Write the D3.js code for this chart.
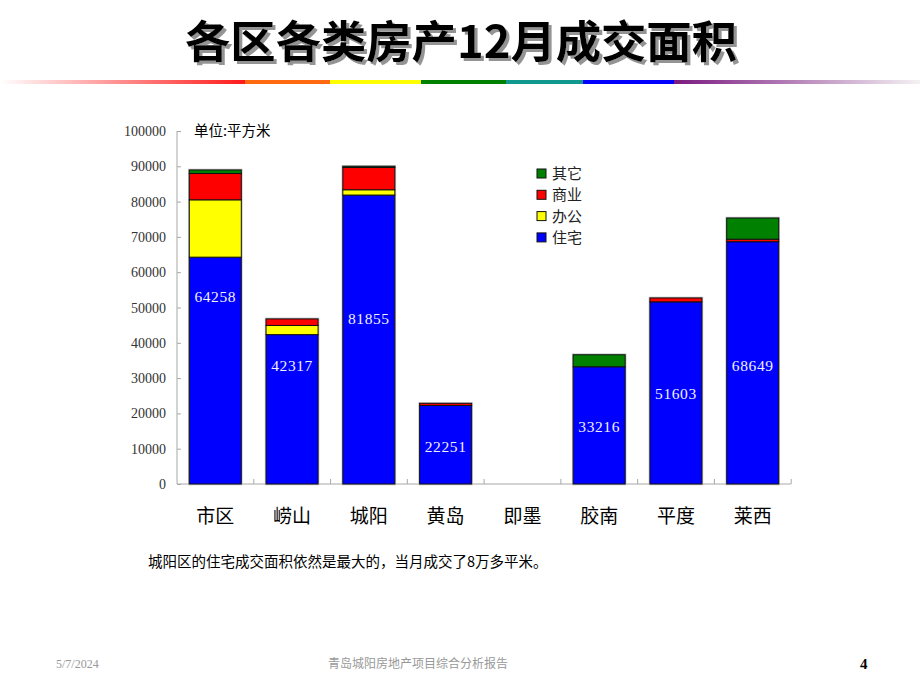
<!DOCTYPE html>
<html><head><meta charset="utf-8">
<script src="https://cdn.jsdelivr.net/npm/d3@7/dist/d3.min.js"></script>
<style>body{margin:0;background:#fff;}svg{display:block;}</style>
</head><body>
<script>
const categories = ["市区","崂山","城阳","黄岛","即墨","胶南","平度","莱西"];
const seriesNames = ["住宅","办公","商业","其它"];
const residential = [64258, 42317, 81855, 22251, 0, 33216, 51603, 68649];
const office      = [16250, 2600, 1500, 0, 0, 0, 0, 0];
const commercial  = [7450, 1850, 6300, 600, 0, 0, 1100, 700];
const other       = [1000, 0, 350, 0, 0, 3400, 0, 6000];
const labelAt     = [53250, 33700, 47000, 10750, null, 16150, 25500, 33700];
const yTicks = [0,10000,20000,30000,40000,50000,60000,70000,80000,90000,100000];
const colors = {"住宅":"#0000ff","办公":"#ffff00","商业":"#ff0000","其它":"#008000"};
const legendOrder = ["其它","商业","办公","住宅"];

const W = 920, H = 690;
const svg = d3.select("body").append("svg").attr("width", W).attr("height", H);
const defs = svg.append("defs");

// Title with drop shadow
const title = "各区各类房产12月成交面积";
const cjk = "'Noto Sans CJK SC','Noto Sans',sans-serif";
const f = defs.append("filter").attr("id","sh").attr("x","-5%").attr("y","-20%").attr("width","110%").attr("height","150%");
f.append("feDropShadow").attr("dx",3).attr("dy",3).attr("stdDeviation",0.6)
  .attr("flood-color","#888").attr("flood-opacity",0.9);
svg.append("text").attr("x", 185).attr("y", 58)
  .attr("textLength", 552).attr("lengthAdjust","spacingAndGlyphs")
  .attr("font-family", cjk).attr("font-weight","bold").attr("font-size", 44)
  .attr("fill", "#000").attr("filter","url(#sh)").text(title);

// Rainbow line
const g1 = defs.append("linearGradient").attr("id","rb").attr("x1",0).attr("x2",1).attr("y1",0).attr("y2",0);
const stops = [
  [0,"#ffffff"],[245/920,"#ff1a1a"],[245/920,"#ff6a10"],[330/920,"#ff6a10"],
  [330/920,"#ffff00"],[421/920,"#ffff00"],[421/920,"#008000"],[506/920,"#008000"],
  [506/920,"#12998f"],[583/920,"#12998f"],[583/920,"#0000ff"],[674/920,"#0000ff"],
  [674/920,"#7a1a80"],[1,"#f4f2f4"]
];
stops.forEach(([o,c])=>g1.append("stop").attr("offset",o).attr("stop-color",c));
svg.append("rect").attr("x",0).attr("y",80).attr("width",W).attr("height",4).attr("fill","url(#rb)");

// Scales
const x = d3.scaleBand().domain(categories).range([177, 791]).paddingInner(0.3225).paddingOuter(0.16);
const y = d3.scaleLinear().domain([0, 100000]).range([484, 131]);

// Axes
const axisColor = "#a8a8a8";
const yAxis = svg.append("g").attr("transform","translate(177,0)")
  .call(d3.axisRight(y).tickValues(yTicks).tickSize(4).tickFormat(""));
yAxis.selectAll("path,line").attr("stroke", axisColor);
yAxis.select(".domain").attr("d", `M0,${y(100000)}V${y(0)}`);
svg.append("g").selectAll("text").data(yTicks).join("text")
  .attr("x", 166).attr("y", d=>y(d)+5).attr("text-anchor","end")
  .attr("font-family","'Liberation Serif','DejaVu Serif',serif").attr("font-size",14)
  .attr("fill","#333").text(d=>d);

const xAxis = svg.append("g").attr("transform",`translate(0,${y(0)})`)
  .call(d3.axisBottom(x).tickSize(0).tickFormat(""));
xAxis.select(".domain").attr("stroke", axisColor).attr("d", `M177,0H791`);
const step = x.step();
svg.append("g").selectAll("line").data(d3.range(1, categories.length+1)).join("line")
  .attr("x1", i=>177+i*step).attr("x2", i=>177+i*step)
  .attr("y1", y(0)).attr("y2", y(0)-5).attr("stroke", axisColor);

svg.append("g").selectAll("text").data(categories).join("text")
  .attr("x", d=>x(d)+x.bandwidth()/2).attr("y", 523).attr("text-anchor","middle")
  .attr("font-family", cjk).attr("font-size",19).attr("fill","#000").text(d=>d);

// Stacked bars
const table = categories.map((c,i)=>({cat:c,"住宅":residential[i],"办公":office[i],"商业":commercial[i],"其它":other[i]}));
const stack = d3.stack().keys(seriesNames)(table);
const totals = table.map(d=>d3.sum(seriesNames, k=>d[k]));
svg.append("g").selectAll("rect").data(table.filter((d,i)=>totals[i]>0)).join("rect")
  .attr("x", d=>x(d.cat)).attr("width", x.bandwidth())
  .attr("y", d=>y(d3.sum(seriesNames,k=>d[k]))).attr("height", d=>y(0)-y(d3.sum(seriesNames,k=>d[k])))
  .attr("fill","none").attr("stroke","#c0c0c0").attr("stroke-width",2.5);
stack.forEach(layer=>{
  svg.append("g").selectAll("rect").data(layer.filter(s=>s[1]-s[0]>0)).join("rect")
    .attr("x", s=>x(s.data.cat)).attr("width", x.bandwidth())
    .attr("y", s=>y(s[1])).attr("height", s=>y(s[0])-y(s[1]))
    .attr("fill", colors[layer.key]).attr("stroke","#111").attr("stroke-width",1);
});

// Data labels
svg.append("g").selectAll("text").data(categories.map((c,i)=>({c, v:residential[i], at:labelAt[i]})).filter(d=>d.v>0)).join("text")
  .attr("x", d=>x(d.c)+x.bandwidth()/2).attr("y", d=>y(d.at)+5.5).attr("text-anchor","middle")
  .attr("font-family","'Liberation Serif','DejaVu Serif',serif").attr("font-size",15.5)
  .attr("letter-spacing",0.6).attr("fill","#f2f2ff").text(d=>d.v);

// Unit label
svg.append("text").attr("x",194).attr("y",136).attr("font-family",cjk).attr("font-size",14.5)
  .attr("fill","#000").text("单位:平方米");

// Legend
const lg = svg.append("g").selectAll("g").data(legendOrder).join("g")
  .attr("transform",(d,i)=>`translate(537,${169+i*21.3})`);
lg.append("rect").attr("width",9).attr("height",9).attr("fill",d=>colors[d]).attr("stroke","#111");
lg.append("text").attr("x",15).attr("y",10).attr("font-family",cjk).attr("font-size",15)
  .attr("fill","#222").text(d=>d);

// Note
svg.append("text").attr("x",148).attr("y",567).attr("font-family",cjk).attr("font-size",14.5)
  .attr("fill","#000").text("城阳区的住宅成交面积依然是最大的，当月成交了8万多平米。");

// Footer
svg.append("text").attr("x",56).attr("y",668).attr("font-family","'Liberation Serif',serif")
  .attr("font-size",12).attr("fill","#999").text("5/7/2024");
svg.append("text").attr("x",418).attr("y",668).attr("text-anchor","middle").attr("font-family",cjk)
  .attr("font-size",12).attr("fill","#999").text("青岛城阳房地产项目综合分析报告");
svg.append("text").attr("x",860).attr("y",669).attr("font-family","'Liberation Serif',serif")
  .attr("font-size",15).attr("font-weight","bold").attr("fill","#000").text("4");
</script>
</body></html>
